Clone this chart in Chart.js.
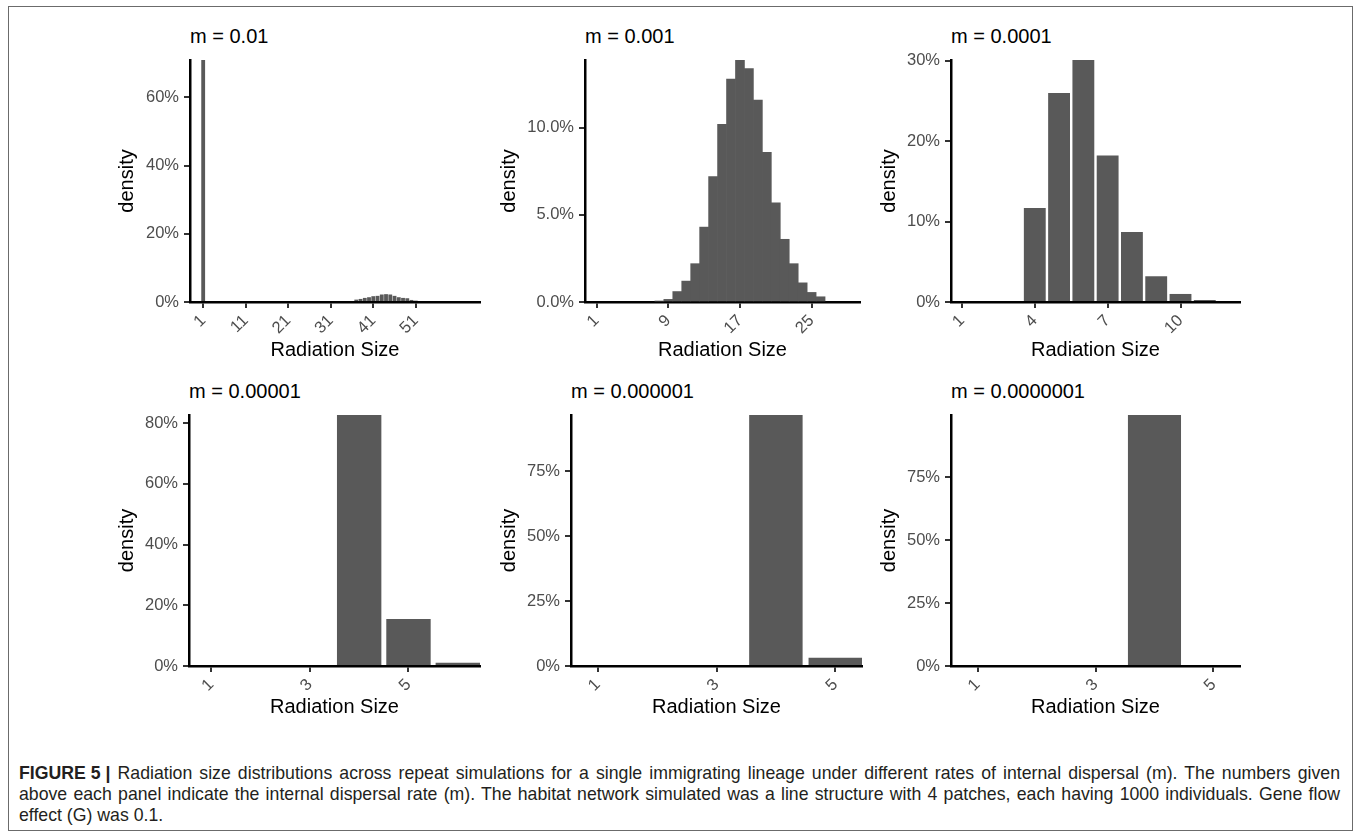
<!DOCTYPE html>
<html>
<head>
<meta charset="utf-8">
<title>Figure 5</title>
<script src="https://cdn.jsdelivr.net/npm/chart.js@4.4.1/dist/chart.umd.min.js"></script>
<style>
  body { margin: 0; background: #fff; font-family: "Liberation Sans", Arial, sans-serif; }
  #fig { position: relative; width: 1360px; height: 837px; overflow: hidden; background: #fff; }
  #frame { position: absolute; left: 8px; top: 6px; width: 1343px; height: 823px; border: 1px solid #6b6b6b; }
  .ptitle { position: absolute; font-size: 20px; line-height: 24px; color: #000; white-space: nowrap; }
  canvas { position: absolute; }
  .cap { position: absolute; left: 19px; width: 1321px; font-size: 17.7px; line-height: 21px; color: #231f20; white-space: nowrap; }
  .just { text-align: justify; text-align-last: justify; }
  .cap b { display: inline-block; }
</style>
</head>
<body>
<div id="fig">
  <div id="frame"></div>
  <div class="cap just" style="top:763px"><b>FIGURE 5 |</b> Radiation size distributions across repeat simulations for a single immigrating lineage under different rates of internal dispersal (m). The numbers given</div>
  <div class="cap just" style="top:784px">above each panel indicate the internal dispersal rate (m). The habitat network simulated was a line structure with 4 patches, each having 1000 individuals. Gene flow</div>
  <div class="cap" style="top:805px">effect (G) was 0.1.</div>
</div>
<script>
const titles = ["m = 0.01", "m = 0.001", "m = 0.0001", "m = 0.00001", "m = 0.000001", "m = 0.0000001"];

// m = 0.01
const sizes1 = [1, 36, 37, 38, 39, 40, 41, 42, 43, 44, 45, 46, 47, 48, 49, 50, 51];
const density1 = [71.0, 0.3, 0.7, 0.9, 1.2, 1.4, 1.7, 1.8, 2.2, 2.3, 2.2, 1.8, 1.4, 1.2, 1.1, 0.6, 0.4];
const xTicks1 = [1, 11, 21, 31, 41, 51];
const yTicks1 = [0, 20, 40, 60];
const yLabels1 = ["0%", "20%", "40%", "60%"];

// m = 0.001
const sizes2 = [8, 9, 10, 11, 12, 13, 14, 15, 16, 17, 18, 19, 20, 21, 22, 23, 24, 25, 26];
const density2 = [0.05, 0.15, 0.6, 1.2, 2.2, 4.3, 7.2, 10.2, 12.8, 13.9, 13.4, 11.6, 8.6, 5.7, 3.6, 2.2, 1.1, 0.55, 0.3];
const xTicks2 = [1, 9, 17, 25];
const yTicks2 = [0, 5, 10];
const yLabels2 = ["0.0%", "5.0%", "10.0%"];

// m = 0.0001
const sizes3 = [1, 2, 3, 4, 5, 6, 7, 8, 9, 10, 11, 12];
const density3 = [0, 0, 0, 11.7, 26.0, 30.1, 18.2, 8.7, 3.2, 1.0, 0.25, 0];
const xTicks3 = [1, 4, 7, 10];
const yTicks3 = [0, 10, 20, 30];
const yLabels3 = ["0%", "10%", "20%", "30%"];

// m = 0.00001
const sizes4 = [1, 2, 3, 4, 5, 6];
const density4 = [0, 0, 0, 82.7, 15.5, 1.1];
const xTicks4 = [1, 3, 5];
const yTicks4 = [0, 20, 40, 60, 80];
const yLabels4 = ["0%", "20%", "40%", "60%", "80%"];

// m = 0.000001
const sizes5 = [1, 2, 3, 4, 5];
const density5 = [0, 0, 0, 96.8, 3.2];
const xTicks5 = [1, 3, 5];
const yTicks5 = [0, 25, 50, 75];
const yLabels5 = ["0%", "25%", "50%", "75%"];

// m = 0.0000001
const sizes6 = [1, 2, 3, 4, 5];
const density6 = [0, 0, 0, 99.9, 0];
const xTicks6 = [1, 3, 5];
const yTicks6 = [0, 25, 50, 75];
const yLabels6 = ["0%", "25%", "50%", "75%"];

const panels = [
  { sizes: sizes1, dens: density1, xTicks: xTicks1, yTicks: yTicks1, yLabels: yLabels1, xMin: -2.1, xMax: 66.1, yMax: 71.0, bar: 0.9 },
  { sizes: sizes2, dens: density2, xTicks: xTicks2, yTicks: yTicks2, yLabels: yLabels2, xMin: -0.3, xMax: 30.4, yMax: 13.9, bar: 1.0 },
  { sizes: sizes3, dens: density3, xTicks: xTicks3, yTicks: yTicks3, yLabels: yLabels3, xMin: 0.55, xMax: 12.45, yMax: 30.1, bar: 0.9 },
  { sizes: sizes4, dens: density4, xTicks: xTicks4, yTicks: yTicks4, yLabels: yLabels4, xMin: 0.55, xMax: 6.45, yMax: 82.7, bar: 0.9 },
  { sizes: sizes5, dens: density5, xTicks: xTicks5, yTicks: yTicks5, yLabels: yLabels5, xMin: 0.55, xMax: 5.45, yMax: 96.8, bar: 0.9 },
  { sizes: sizes6, dens: density6, xTicks: xTicks6, yTicks: yTicks6, yLabels: yLabels6, xMin: 0.55, xMax: 5.45, yMax: 99.9, bar: 0.9 }
];

// plot area boxes (l,t,r,b), title centre y, y-title centre x, x-title centre y
const boxes = [
  { l: 190, t: 57, r: 480, b: 302, ty: 36, yt: 127, xt: 350 },
  { l: 585, t: 57, r: 860, b: 302, ty: 36, yt: 509, xt: 350 },
  { l: 951, t: 57, r: 1240, b: 302, ty: 36, yt: 889, xt: 350 },
  { l: 189, t: 412, r: 480, b: 666, ty: 391, yt: 127, xt: 707 },
  { l: 571, t: 412, r: 862, b: 666, ty: 391, yt: 509, xt: 707 },
  { l: 951, t: 412, r: 1240, b: 666, ty: 391, yt: 889, xt: 707 }
];

const fig = document.getElementById("fig");
const tickFont = { family: "'Liberation Sans', Arial, sans-serif", size: 16.5 };
const titleFont = { family: "'Liberation Sans', Arial, sans-serif", size: 20 };
const half = 12; // half of title line height (20 * 1.2 / 2)

panels.forEach((p, i) => {
  const box = boxes[i];

  const t = document.createElement("div");
  t.className = "ptitle";
  t.textContent = titles[i];
  t.style.left = box.l + "px";
  t.style.top = (box.ty - 12) + "px";
  fig.appendChild(t);

  const left = box.yt - half;
  const top = box.t - 12;
  const right = box.r + 12;
  const bottom = box.xt + half;
  const yW = box.l - left;
  const xH = bottom - box.b;

  const canvas = document.createElement("canvas");
  canvas.width = right - left;
  canvas.height = bottom - top;
  canvas.style.left = left + "px";
  canvas.style.top = top + "px";
  canvas.style.width = (right - left) + "px";
  canvas.style.height = (bottom - top) + "px";
  fig.appendChild(canvas);

  new Chart(canvas, {
    type: "bar",
    data: {
      datasets: [{
        data: p.sizes.map((s, k) => ({ x: s, y: p.dens[k] })),
        backgroundColor: "#595959",
        borderWidth: 0,
        barPercentage: p.bar,
        categoryPercentage: 1
      }]
    },
    options: {
      responsive: false,
      animation: false,
      devicePixelRatio: 1,
      layout: { padding: { top: 12, right: 12, left: 0, bottom: 0 } },
      plugins: { legend: { display: false }, tooltip: { enabled: false } },
      scales: {
        x: {
          type: "linear",
          min: p.xMin,
          max: p.xMax,
          offset: false,
          z: 1,
          grid: { offset: false, drawOnChartArea: false, drawTicks: true, tickLength: 6, color: "#333", lineWidth: 2 },
          border: { display: true, color: "#000", width: 2.5 },
          ticks: {
            autoSkip: false, minRotation: 45, maxRotation: 45, padding: 3,
            color: "#4d4d4d", font: tickFont,
            callback: (v) => String(v)
          },
          afterBuildTicks: (scale) => { scale.ticks = p.xTicks.map(v => ({ value: v })); },
          afterFit: (scale) => { scale.height = xH; },
          title: { display: true, text: "Radiation Size", color: "#000", font: titleFont, padding: 0 }
        },
        y: {
          min: 0,
          max: p.yMax,
          z: 1,
          grid: { drawOnChartArea: false, drawTicks: true, tickLength: 6, color: "#333", lineWidth: 2 },
          border: { display: true, color: "#000", width: 2.5 },
          ticks: {
            padding: 5, color: "#4d4d4d", font: tickFont,
            callback: (v, k) => p.yLabels[k]
          },
          afterBuildTicks: (scale) => { scale.ticks = p.yTicks.map(v => ({ value: v })); },
          afterFit: (scale) => { scale.width = yW; },
          title: { display: true, text: "density", color: "#000", font: titleFont, padding: 0 }
        }
      }
    }
  });
});
</script>
</body>
</html>
